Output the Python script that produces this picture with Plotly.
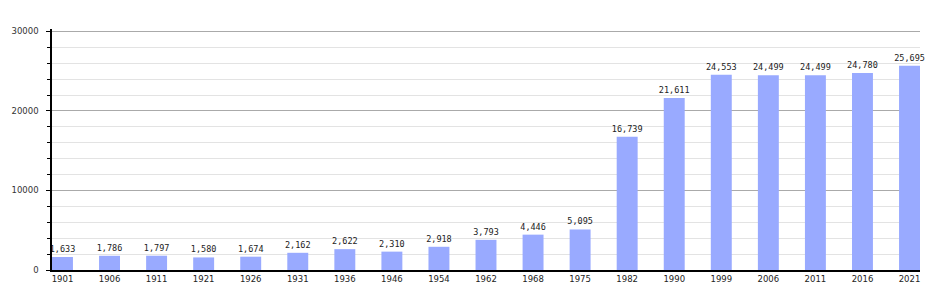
import plotly.graph_objects as go

years = ["1901", "1906", "1911", "1921", "1926", "1931", "1936", "1946", "1954", "1962",
         "1968", "1975", "1982", "1990", "1999", "2006", "2011", "2016", "2021"]
population = [1633, 1786, 1797, 1580, 1674, 2162, 2622, 2310, 2918, 3793,
              4446, 5095, 16739, 21611, 24553, 24499, 24499, 24780, 25695]
y_ticks = [0, 10000, 20000, 30000]

idx = list(range(len(years)))
labels = [f"{v:,}" for v in population]

fig = go.Figure(go.Bar(
    x=idx, y=population, width=0.445,
    marker=dict(color="#99aaff", line=dict(width=0)),
    text=labels, textposition="outside", cliponaxis=False,
    constraintext="none",
    textfont=dict(family="DejaVu Sans Mono", size=8.5, color="#222222"),
    hoverinfo="skip",
))

fig.update_layout(
    width=950, height=300,
    margin=dict(l=50, r=30, t=29, b=30),
    plot_bgcolor="white", paper_bgcolor="white",
    showlegend=False,
    font=dict(family="DejaVu Sans", size=8.5, color="#333333"),
)
fig.update_xaxes(
    range=[-0.2226, 18.2226],
    tickvals=idx, ticktext=years,
    showgrid=False, zeroline=False,
    showline=True, linecolor="black", linewidth=1.5,
    ticks="", tickfont=dict(family="DejaVu Sans", size=8.5, color="#222222"),
)
fig.update_yaxes(
    range=[0, 30300],
    tickvals=y_ticks, ticktext=[str(v) for v in y_ticks],
    showgrid=True, gridcolor="#aaaaaa", gridwidth=1,
    zeroline=False,
    showline=True, linecolor="black", linewidth=1.5,
    ticks="outside", ticklen=4, tickcolor="black", tickwidth=1,
    ticklabelstandoff=6,
    minor=dict(dtick=2000, showgrid=True, gridcolor="#e3e3e3", gridwidth=1,
               ticks="outside", ticklen=3, tickcolor="black"),
    tickfont=dict(family="DejaVu Sans", size=8.5, color="#333333"),
)

fig.write_html("out.html")
